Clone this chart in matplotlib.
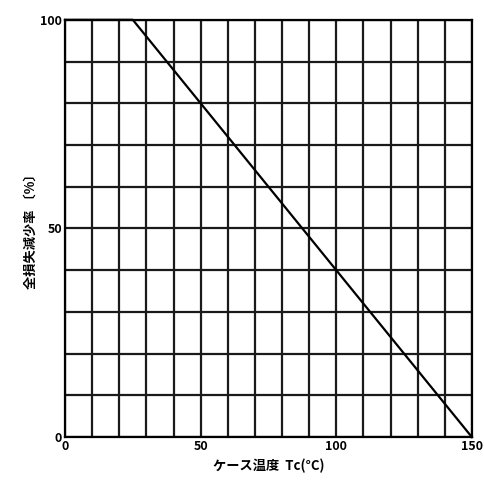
import matplotlib
matplotlib.use("Agg")
import matplotlib.pyplot as plt
import numpy as np

plt.rcParams['font.family'] = ['Noto Sans CJK JP', 'DejaVu Sans']

# derating curve
temp = [0, 25, 150]
loss = [100, 100, 0]

xticks = [0, 50, 100, 150]
yticks = [0, 50, 100]

fig = plt.figure(figsize=(4.85, 4.83), dpi=100)
ax = fig.add_axes([0.134, 0.095, 0.839, 0.864])

ax.set_xlim(0, 150)
ax.set_ylim(0, 100)
ax.set_xticks(np.arange(0, 151, 10), minor=True)
ax.set_yticks(np.arange(0, 101, 10), minor=True)
ax.set_xticks(xticks)
ax.set_yticks(yticks)
ax.grid(True, which='both', color='#1a1a1a', lw=1.6)
ax.set_axisbelow(True)
ax.tick_params(which='both', length=0, labelsize=9, pad=2)
for lab in ax.get_xticklabels() + ax.get_yticklabels():
    lab.set_fontweight('bold')

ax.plot(temp, loss, color='black', lw=1.6, clip_on=False)

for s in ax.spines.values():
    s.set_linewidth(1.6)

ax.set_xlabel('ケース温度  Tc(°C)', fontsize=9.5, fontweight='bold', labelpad=4)
ax.set_ylabel('全損失減少率 〔%〕', fontsize=9.5, fontweight='bold', labelpad=2)

fig.savefig('out.png', dpi=100)
